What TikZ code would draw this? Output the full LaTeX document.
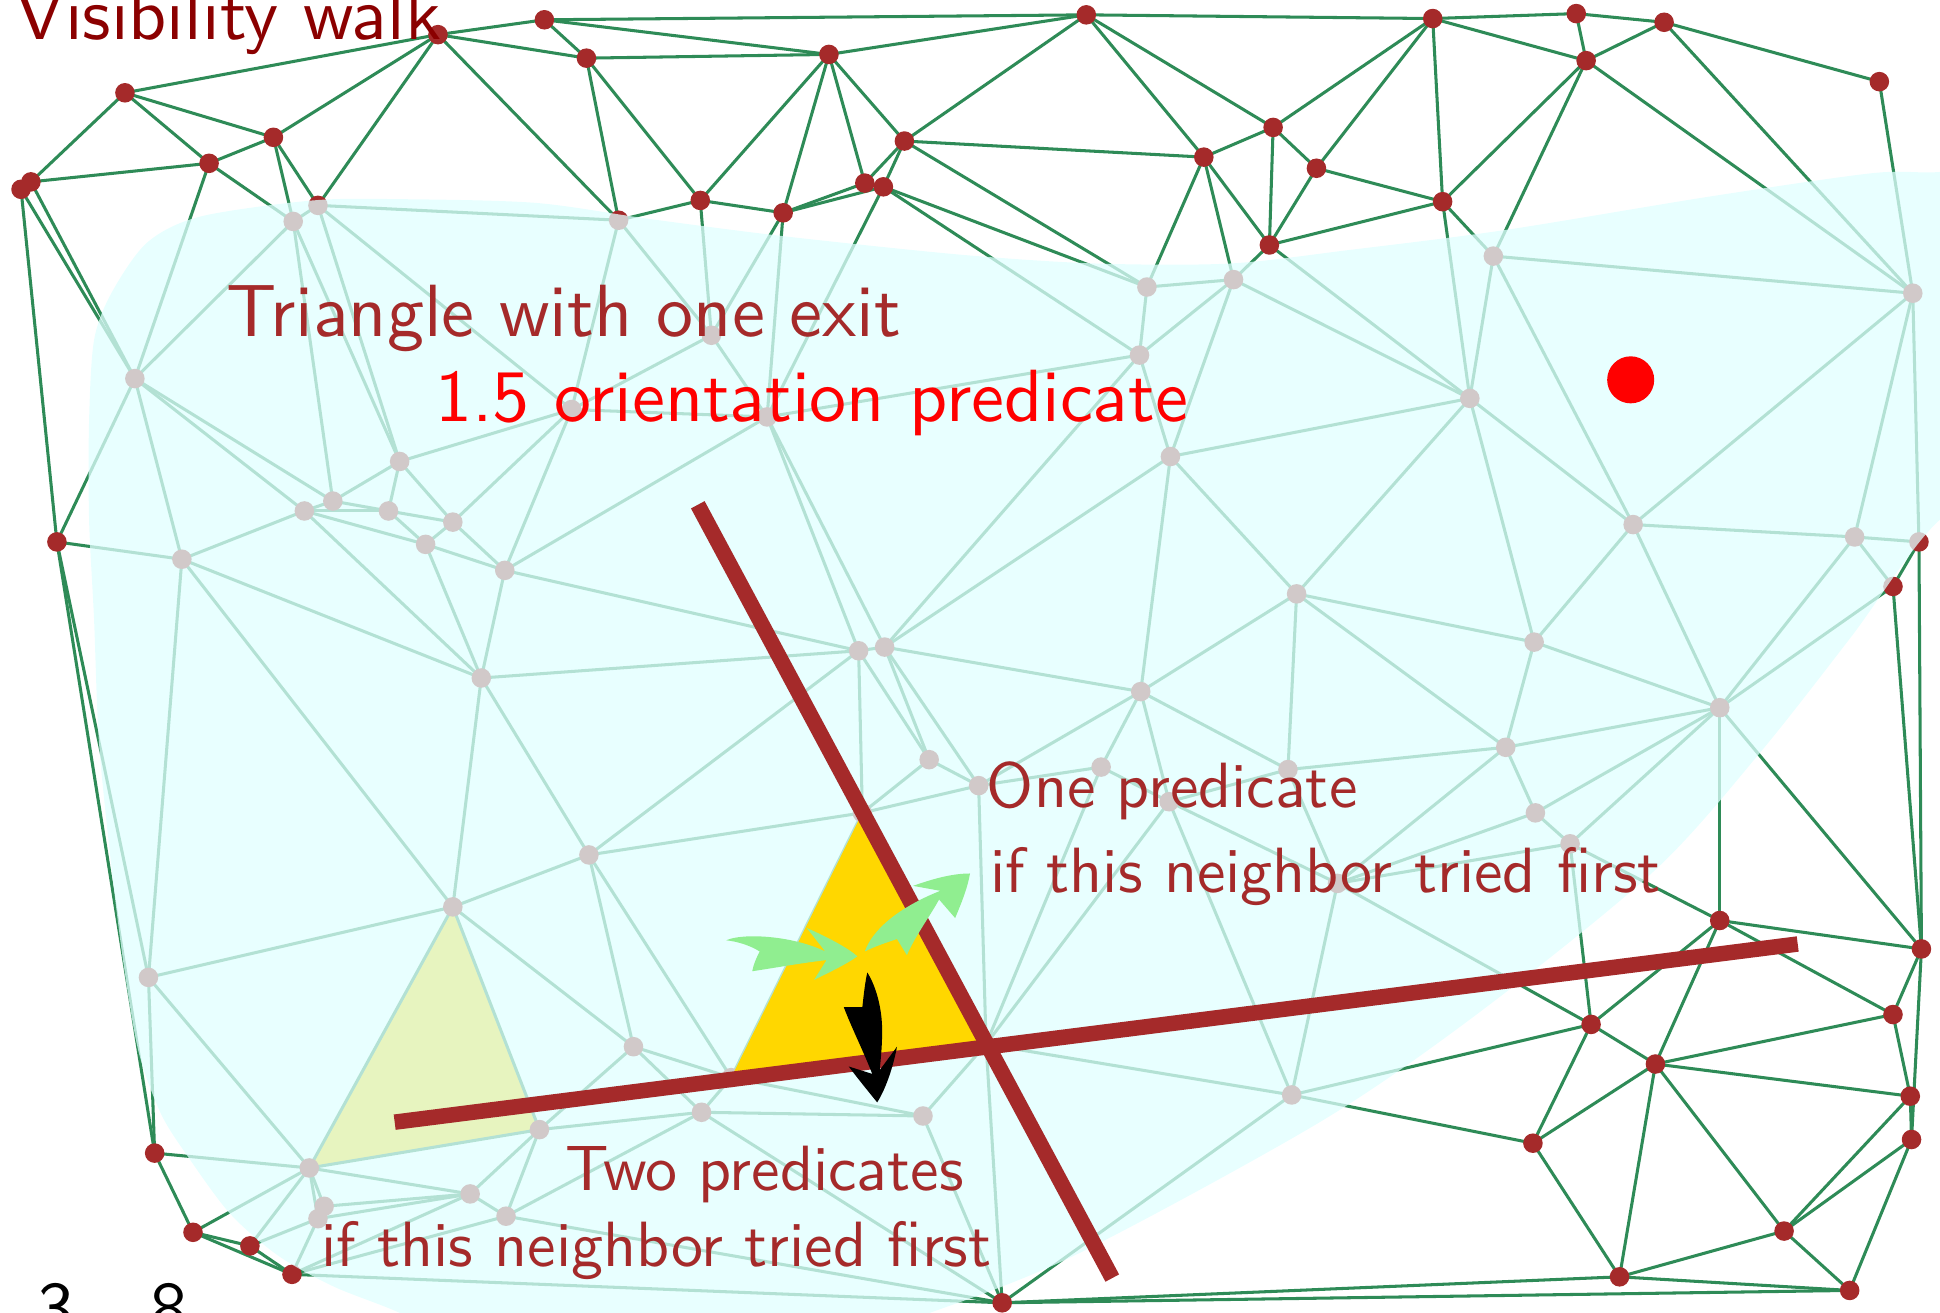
\documentclass[tikz,border=0pt]{standalone}
\usepackage{fontspec}
\newfontfamily\tensf{lmsans10-regular.otf}
\definecolor{seagreen}{RGB}{46,139,87}
\definecolor{brownred}{RGB}{165,42,42}
\definecolor{walkred}{RGB}{139,0,0}
\definecolor{lightcyan}{RGB}{224,255,255}
\definecolor{gold}{RGB}{255,215,0}
\definecolor{lightgreen}{RGB}{144,238,144}
\tikzset{
	dotV/.style={circle, fill=brownred, inner sep=0pt, minimum size=1.58mm},
	linkE/.style={draw=seagreen, line width=0.7pt},
	cutL/.style={draw=brownred, line width=1.25mm},
	lblL/.style={anchor=base west, inner sep=0pt, font={\tensf\fontsize{17}{20}\selectfont}},
	lblS/.style={anchor=base west, inner sep=0pt, text=brownred, font={\tensf\fontsize{14.7}{18}\selectfont}},
}

\begin{document}
\begin{tikzpicture}[x=0.01cm, y=-0.01cm]
\useasboundingbox (0,0) rectangle (1568,1061);
\clip (0,0) rectangle (1568,1061);

% points of the triangulation
\def\trivertices{U1/17/153, U2/25/147, U3/101/75, U4/169/132, U5/221/111, U6/354/28, U7/440/16,
U8/474/47, U9/566/162, U10/633/172, U11/670/44, U12/699/148, U13/714/151, U14/731/114,
U15/878/12, U16/973/127, U17/1029/103, U18/1064/136, U19/1026/198, U20/1158/15, U21/1166/163,
U22/1274/11, U23/1282/49, U24/1345/18, U25/1519/66, U26/46/438,
G1/237/179, G2/257/166, G3/500/178, G4/109/306, G5/575/271, G6/620/337, G7/927/232, G8/997/226,
G9/921/287, G10/946/369, G11/1188/322, G12/1207/207, G13/1546/237, G14/323/373, G15/269/405,
G16/246/413, G17/314/413, G18/366/422, G19/344/440, G20/408/461, G21/147/452, G22/389/548,
G23/694/526, G24/715/523, G25/1048/480, G26/1320/424, G27/1499/434, G28/1551/438, G29/1530/474,
G30/1240/519, G31/1390/572, G32/922/559, G33/1217/604, G34/751/614, G35/791/635, G36/890/620,
G37/945/648, G38/1041/622, G39/1241/657, G40/1269/682, G41/1081/714, G42/462/331, G43/476/691,
G44/366/733, G45/120/790, G46/512/846, G47/567/899, G48/436/913, G49/746/902, G50/1044/885,
G51/250/944, G52/380/965, G53/409/983, G54/262/975, G55/257/985,
T1/697/657, T2/591/871, T3/797/844,
R27/125/932, R28/156/996, R29/202/1007, R30/236/1030, R31/810/1053, R32/1390/744, R33/1553/767,
R34/1286/828, R35/1338/860, R36/1530/820, R37/1544/886, R38/1545/921, R39/1239/924, R40/1442/995,
R41/1309/1032, R42/1495/1043}
\foreach \n/\px/\py in \trivertices {\coordinate (\n) at (\px,\py);}

% pale triangle (seen through the region)
\fill[gold] (G44) -- (G51) -- (G48) -- cycle;

% edges
\def\triedges{U3/U6, U3/U5, U3/U4, U3/U2, U2/U4, U4/U5, U5/U6, U6/U7, U6/U8, U6/G2, U6/G3, U7/U8,
U7/U15, U7/U11, U8/U11, U8/G3, U8/U9, U4/G1, U4/G4, U5/G1, U5/G2, G1/G2, U1/G4, U2/G4, U1/U26, U1/U2,
U11/U15, U11/U9, U11/U10, U11/U12, U11/U14, U9/G3, U9/U10, U9/G5, U10/U12, U10/U13, U10/G5, U10/G6,
U12/U14, U12/U13, U13/U14, U13/G6, U14/U15, U14/U16, U14/G7, U13/G7, U13/G9,
U15/U16, U15/U17, U15/U20, U16/U17, U16/U19, U16/G7, U16/G8, U17/U19, U17/U18, U17/U20,
U18/U19, U18/U20, U18/U21, U19/U21, U19/G8, U19/G11,
U20/U22, U22/U24, U22/U23, U20/U23, U23/U24, U20/U21, U23/U21, U23/G12, U23/G13, U24/G13,
U24/U25, U25/G13, U21/G12, U21/G11,
G12/G11, G12/G13, G12/G26, G7/G8, G7/G9, G8/G9, G8/G10, G8/G11, G9/G10, G9/G6, G9/G24,
G10/G11, G10/G24, G10/G25, G10/G32,
G5/G42, G5/G6, G3/G42, G3/G5, G2/G3, G2/G42, G2/G14, G1/G14, G1/G15, G1/G4,
G42/G6, G42/G14, G42/G18, G42/G20,
G4/U26, G4/G21, G4/G16, G4/G15, U26/G21, U26/R27, U26/G45,
G21/G16, G21/G22, G21/G45, G21/G44,
G14/G15, G14/G17, G14/G18, G15/G16, G15/G17, G16/G17, G16/G19, G16/G22, G17/G19, G17/G18,
G18/G19, G18/G20, G19/G20, G19/G22, G20/G22, G20/G6, G20/G23,
G22/G43, G22/G44, G22/G23, G43/G23, G43/T1, G43/G44, G43/T2, G43/G46,
G6/G23, G6/G24, G23/G24, G23/T1, G23/G34, G24/G34, G24/G35, G24/G32,
G44/G45, G44/G48, G44/G51, G44/G46, G45/G51, G45/R27, R27/G51, R27/R28, R28/R29, R28/R30, R28/G51,
R29/R30, R29/G51, R29/G55, R30/G55, R30/G52, R30/G53, R30/R31,
G51/G48, G51/G52, G51/G54, G51/G55, G54/G55, G54/G52, G55/G52, G52/G48, G52/G53, G53/G48, G53/G47, G53/R31,
G48/G46, G48/G47, G46/G47, G46/T2, T2/G47, T2/G49, G47/G49, G47/R31, G49/R31, G49/T3,
T1/T2, T1/T3, T2/T3, T1/G34, T1/G35, G34/G35,
T3/G35, T3/G36, T3/G37, T3/G50, T3/R31,
G35/G36, G35/G32, G36/G32, G36/G37, G37/G32, G37/G38, G37/G41, G37/G50,
G38/G25, G38/G32, G38/G33, G38/G41, G32/G25, G25/G11, G25/G30, G25/G33,
G41/G33, G41/G39, G41/G40, G41/G50, G41/R34, G50/R31, G50/R34, G50/R39,
G33/G39, G33/G30, G33/G31, G39/G40, G39/G31, G40/G31, G40/R34, G40/R32,
G30/G11, G30/G26, G30/G31, G26/G11, G26/G13, G26/G27, G26/G31, G27/G13, G27/G28, G27/G29, G27/G31,
G28/G13, G28/G29, G29/G31, G28/R33, G29/R33, G31/R32, G31/R33,
R32/R33, R32/R34, R32/R35, R32/R36, R33/R36, R33/R38, R34/R35, R34/R39, R35/R36, R35/R37, R35/R39,
R35/R40, R35/R41, R36/R37, R37/R38, R37/R40, R38/R40, R38/R42, R39/R41, R40/R41, R40/R42, R41/R42,
R41/R31, R42/R31}
\foreach \p/\q in \triedges {\draw[linkE] (\p) -- (\q);}

\foreach \n/\px/\py in \trivertices {\node[dotV] (dot\n) at (\n) {};}

% visited region
\fill[lightcyan, fill opacity=0.75] plot[smooth cycle, tension=0.5] coordinates {
(72,340) (76,275) (90,237) (119,196) (162,175) (253,162) (325,161) (433,164) (525,177)
(634,191) (778,206) (886,213) (994,213) (1091,202) (1216,186) (1381,159) (1513,140) (1568,139)
(1650,130) (1650,380) (1568,420) (1496,515) (1422,609) (1338,703) (1200,815) (1070,905)
(872,1013) (749,1062) (600,1110) (400,1100) (325,1062) (270,1040) (225,1015) (186,981)
(152,935) (130,900) (112,850) (100,780) (90,700) (80,600) (76,500) (72,420)};

% current triangle and its two supporting lines
\fill[gold] (T1) -- (T2) -- (T3) -- cycle;
\coordinate (L1a) at (564,408);
\coordinate (L1b) at (899,1033);
\coordinate (L2a) at (319,907);
\coordinate (L2b) at (1453,763);
\draw[cutL] (L1a) -- (L1b);
\draw[cutL] (L2a) -- (L2b);

\node[circle, fill=red, inner sep=0pt, minimum size=3.8mm] (query) at (1318,307) {};

% the three neighbour arrows
\fill[lightgreen] (587,760) .. controls (600,754) and (640,756) .. (667,769)
  -- (652,750) .. controls (670,758) and (685,766) .. (693,773)
  .. controls (683,780) and (670,786) .. (658,792) -- (668,776)
  .. controls (650,778) and (628,782) .. (608,785)
  .. controls (609,779) and (612,773) .. (614,769)
  .. controls (606,764) and (596,761) .. cycle;
\fill[lightgreen] (699,769) .. controls (705,752) and (725,734) .. (760,720)
  -- (738,716) .. controls (755,710) and (770,706) .. (784,706)
  .. controls (782,718) and (777,730) .. (772,742) -- (759,727)
  .. controls (752,740) and (740,756) .. (733,772) -- (725,759)
  .. controls (716,762) and (707,765) .. cycle;
\fill[black] (701,786) .. controls (708,797) and (713,815) .. (713,833)
  .. controls (713,845) and (712,855) .. (711,865)
  -- (725,846) .. controls (722,862) and (716,880) .. (709,891)
  .. controls (700,880) and (692,870) .. (686,862) -- (705,868)
  .. controls (698,850) and (688,830) .. (682,814) -- (697,814)
  .. controls (698,805) and (699,795) .. cycle;

% texts
\node[lblL, text=walkred] (title) at (12,32) {Visibility walk};
\node[lblL, text=brownred] (exitlbl) at (182,272) {Triangle with one exit};
\node[lblL, text=red] (costlbl) at (351,341) {1.5 orientation predicate};
\node[lblS] (onelbl) at (797,653) {One predicate};
\node[lblS] (onelblb) at (800,721) {if this neighbor tried first};
\node[lblS] (twolbl) at (456,962) {Two predicates};
\node[lblS] (twolblb) at (259,1024) {if this neighbor tried first};
\node[lblL, text=black] (slideA) at (30,1078) {3};
\node[lblL, text=black] (slideB) at (121,1078) {8};
\end{tikzpicture}
\end{document}
